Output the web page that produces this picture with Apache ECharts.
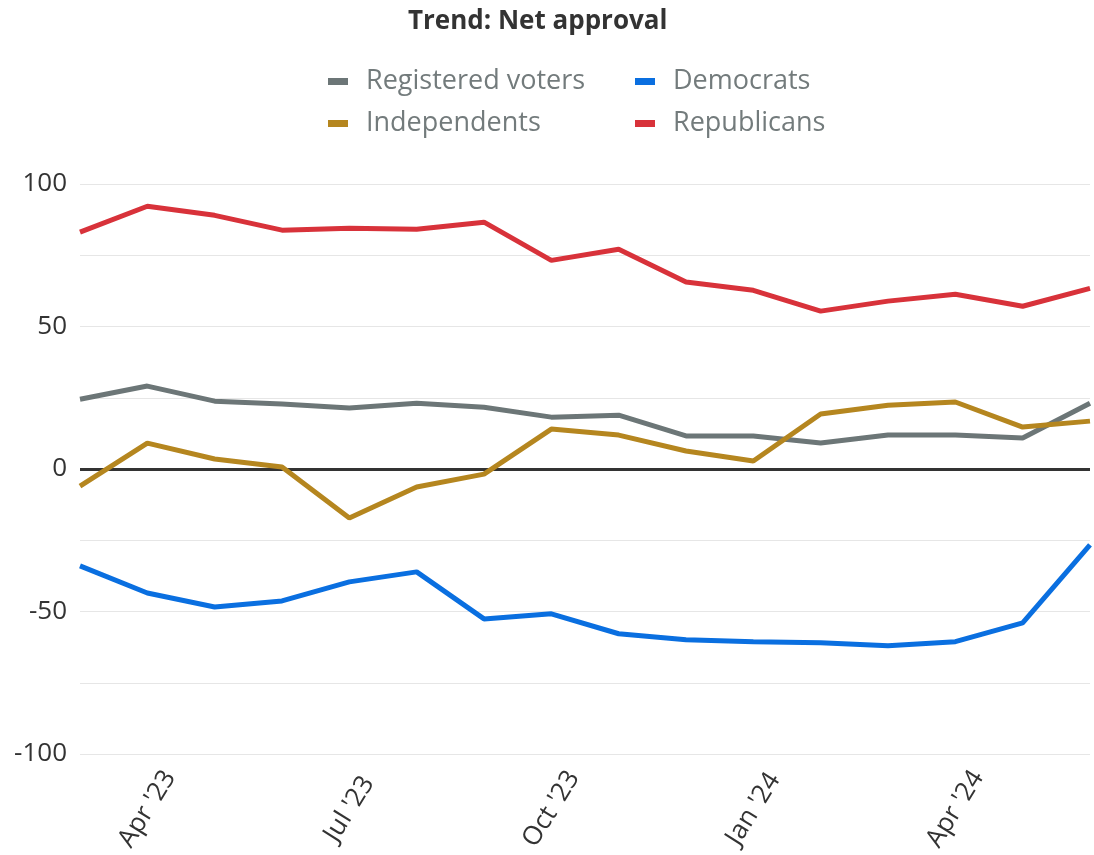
<!DOCTYPE html>
<html>
<head>
<meta charset="utf-8">
<script src="https://cdn.jsdelivr.net/npm/echarts@6/dist/echarts.min.js"></script>
<style>
html,body{margin:0;padding:0;background:#fff;}
#chart{width:1094px;height:855px;}
</style>
</head>
<body>
<div id="chart"></div>
<script>
const months = ["Mar '23","Apr '23","May '23","Jun '23","Jul '23","Aug '23","Sep '23","Oct '23","Nov '23","Dec '23","Jan '24","Feb '24","Mar '24","Apr '24","May '24","Jun '24"];
const registeredVoters = [24.5, 29.1, 23.8, 22.8, 21.4, 23.1, 21.7, 18.2, 18.9, 11.6, 11.6, 9.1, 11.9, 11.9, 10.9, 23.1];
const independents = [-6.0, 9.1, 3.5, 0.7, -17.2, -6.3, -1.8, 14.0, 11.9, 6.3, 2.8, 19.3, 22.4, 23.5, 14.7, 16.8];
const democrats = [-34.0, -43.5, -48.4, -46.3, -39.6, -36.1, -52.6, -50.8, -57.8, -59.9, -60.6, -61.0, -62.0, -60.6, -54.0, -26.6];
const republicans = [83.1, 92.2, 89.0, 83.8, 84.5, 84.1, 86.6, 73.2, 77.1, 65.6, 62.7, 55.4, 58.9, 61.3, 57.1, 63.4];
const yTickLabels = [-100, -50, 0, 50, 100];

const FONT = '"Open Sans", sans-serif';
const colors = {
  'Registered voters': '#6c7677',
  'Independents': '#b5861f',
  'Democrats': '#0a6fe0',
  'Republicans': '#d8323a'
};

function lineSeries(name, data, extra) {
  return Object.assign({
    name: name,
    type: 'line',
    data: data,
    symbol: 'none',
    lineStyle: { width: 5, color: colors[name] },
    itemStyle: { color: colors[name] },
    emphasis: { disabled: true },
    z: 3
  }, extra || {});
}

const chart = echarts.init(document.getElementById('chart'), null, { renderer: 'canvas' });
const legendCommon = {
  orient: 'vertical',
  top: 63,
  icon: 'rect',
  itemWidth: 20,
  itemHeight: 7,
  itemGap: 15,
  textStyle: { fontFamily: FONT, fontSize: 27, color: '#737b7c', lineHeight: 27, padding: [0, 0, 0, 13] }
};
chart.setOption({
  animation: false,
  backgroundColor: '#fff',
  title: {
    text: 'Trend: Net approval',
    left: 403,
    top: 4,
    textStyle: { fontFamily: FONT, fontSize: 26, fontWeight: 'bold', color: '#333' }
  },
  legend: [
    Object.assign({ left: 323, data: ['Registered voters', 'Independents'] }, legendCommon),
    Object.assign({ left: 630, data: ['Democrats', 'Republicans'] }, legendCommon)
  ],
  grid: { left: 80, right: 4, top: 184, bottom: 101, containLabel: false },
  xAxis: {
    type: 'category',
    data: months,
    boundaryGap: false,
    axisLine: { show: false },
    axisTick: { show: false },
    axisLabel: {
      interval: function (idx) { return idx % 3 === 1; },
      rotate: 58,
      align: 'center',
      verticalAlign: 'middle',
      margin: 55,
      fontFamily: FONT,
      fontSize: 26,
      color: '#333'
    },
    splitLine: { show: false }
  },
  yAxis: {
    type: 'value',
    min: -100,
    max: 100,
    interval: 25,
    axisLine: { show: false },
    axisTick: { show: false },
    axisLabel: {
      margin: 13,
      fontFamily: FONT,
      fontSize: 26,
      color: '#333',
      formatter: function (v) { return yTickLabels.indexOf(v) >= 0 ? String(v) : ''; }
    },
    splitLine: { lineStyle: { color: '#e6e6e6', width: 1 } }
  },
  series: [
    lineSeries('Registered voters', registeredVoters, {
      markLine: {
        silent: true,
        symbol: ['none', 'none'],
        label: { show: false },
        lineStyle: { color: '#333', width: 3, type: 'solid' },
        data: [{ yAxis: 0 }],
        z: 2
      }
    }),
    lineSeries('Independents', independents),
    lineSeries('Democrats', democrats),
    lineSeries('Republicans', republicans)
  ]
});
</script>
</body>
</html>
